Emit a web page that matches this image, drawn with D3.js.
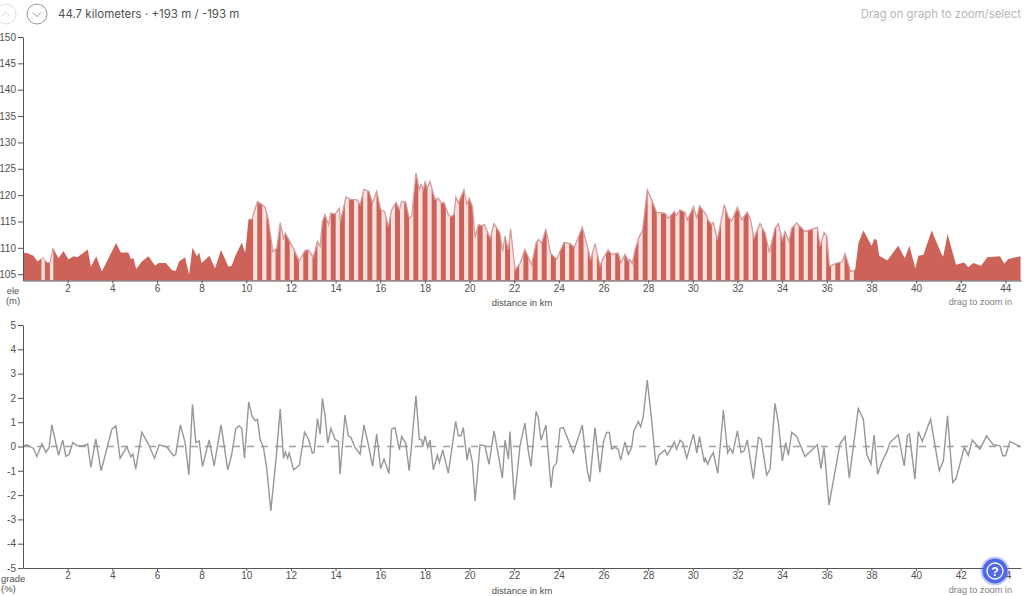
<!DOCTYPE html>
<html>
<head>
<meta charset="utf-8">
<script src="https://cdn.jsdelivr.net/npm/d3@7"></script>
<style>
  html, body { margin: 0; padding: 0; background: #fff; overflow: hidden; }
  svg { display: block; }
  .axis text { font: 10px "Liberation Sans", Arial, sans-serif; fill: #505050; }
  .axis path, .axis line { stroke: #555; }
  .label { font: 9.5px "Liberation Sans", Arial, sans-serif; fill: #505050; }
  .hint { font: 9.2px "Liberation Sans", Arial, sans-serif; fill: #808080; }
</style>
</head>
<body>
<div id="chart"></div>
<script>
// elevation profile
const eleKm = [0.02,0.17,0.47,0.65,0.89,1.07,1.22,1.34,1.59,1.81,2.04,2.26,2.44,2.9,3.04,3.28,3.53,4.17,4.38,4.72,4.83,4.95,5.07,5.32,5.62,5.92,6.07,6.4,6.67,6.84,6.99,7.26,7.44,7.59,7.79,7.89,8.0,8.35,8.6,8.87,9.2,9.35,9.5,9.8,9.95,10.1,10.25,10.5,10.7,10.84,10.99,11.19,11.37,11.52,11.67,11.75,11.9,12.12,12.37,12.64,12.79,13.0,13.19,13.31,13.41,13.53,13.68,13.79,13.98,14.17,14.22,14.47,14.65,14.95,15.1,15.27,15.5,15.65,15.84,16.02,16.19,16.36,16.51,16.71,16.86,16.96,17.14,17.3,17.41,17.6,17.75,17.83,17.93,18.01,18.11,18.23,18.45,18.6,18.75,18.86,19.05,19.16,19.3,19.39,19.5,19.75,19.87,19.99,20.13,20.25,20.4,20.54,20.66,20.92,21.1,21.36,21.48,21.59,21.74,21.84,22.04,22.26,22.48,22.78,22.98,23.08,23.23,23.42,23.63,23.9,24.08,24.23,24.5,24.69,25.05,25.32,25.42,25.62,25.84,25.99,26.21,26.36,26.66,26.78,26.96,27.13,27.18,27.29,27.41,27.59,27.75,27.96,28.16,28.38,28.75,28.9,29.17,29.27,29.43,29.65,29.76,30.03,30.18,30.3,30.55,30.7,30.85,30.92,31.1,31.41,31.59,31.74,32.0,32.19,32.44,32.59,32.74,33.01,33.24,33.43,33.68,33.83,34.01,34.13,34.31,34.43,34.65,35.03,35.58,35.7,35.88,36.0,36.12,36.45,36.7,36.82,37.07,37.27,37.42,37.64,38.01,38.13,38.24,38.35,38.71,39.2,39.5,39.7,39.97,40.1,40.33,40.7,41.15,41.22,41.41,41.79,42.15,42.34,42.56,42.91,43.19,43.76,43.95,44.13,44.68];
const eleVal = [109,109,108.5,107.4,108.2,107.2,107.2,110,108,109.4,107.8,108.4,108.2,109.7,106.4,108.4,105.5,110.9,109.1,109.1,107.9,108,106,107.4,108.4,106.6,107.1,107.1,105.8,105.6,107.4,108.2,104.9,110,108.4,109.1,107.1,108.5,106.1,109.6,106.4,106.6,108.4,111,109,115.4,115.4,118.8,118.2,117.7,115.3,109.3,109.9,114.8,111.8,112.8,111.6,109.8,107.5,109.5,109.6,108.2,111.2,110.3,115,116.3,114.4,116.6,116.4,117.5,115,119.7,119.2,119.1,118.2,121.1,120.7,118.5,120.7,117.2,116.9,114,117.2,118.6,117.2,118.8,118.7,115.6,116,124.2,121,122,121,122.5,121.3,122.6,119.2,119.4,118.5,118.6,116.3,115.9,116.3,119.6,118.5,121,118.2,119.4,117.8,112,114.4,114.2,114.4,111.8,114.6,112.8,109.3,112.2,109.6,113.6,105.8,107,109.7,106.8,110.9,111.6,110.9,113.6,109,107.8,109.6,111,110.8,110.1,113.9,109.6,107.7,110.8,106.6,108,109.6,108.8,109,107.1,108.8,107.4,107.8,107,109.6,112,113.3,121,119.1,116.7,116.6,115.6,116.9,116.1,117.2,116.7,115.3,117.8,115.6,118,116.6,115.2,114.4,114.8,111.5,118.2,115.8,115.1,117.7,115.3,116.8,115.3,111.8,114.6,112.8,109.1,113.7,114.6,111.5,113.1,111.2,113.7,114.7,113.1,113.9,110.3,112.9,112.2,106.5,107.1,107.4,108.9,105.5,105.8,110.9,113.3,110.4,111.7,111.5,108.5,107.6,110.4,108,110.4,106.1,108.5,108.7,113.3,108.7,108.4,112.6,106.8,107.2,106.3,107.1,106.6,108.2,108.4,107,107.9,108.4];

// centres of the pale stripes in km
const stripeKm = [0.92,1.3,10.40,10.81,11.22,11.63,12.04,12.46,12.87,13.28,13.69,14.10,14.51,14.92,15.33,15.74,16.15,16.57,16.98,17.39,17.80,18.21,18.62,19.03,19.44,19.85,20.26,20.68,21.09,21.50,21.91,22.32,22.73,23.14,23.55,23.96,24.37,24.79,25.20,25.61,26.02,26.43,26.84,27.25,27.66,28.07,28.48,28.90,29.31,29.72,30.13,30.54,30.95,31.36,31.77,32.18,32.59,33.01,33.42,33.83,34.24,34.65,35.06,35.47,35.88,36.29,36.70,37.12];

// grade profile
const gradeKm = [0.02,0.17,0.47,0.62,0.85,1.02,1.17,1.29,1.59,1.78,1.92,2.07,2.23,2.44,2.71,2.9,3.04,3.26,3.5,3.98,4.16,4.35,4.65,4.83,4.92,5.05,5.32,5.62,5.89,6.1,6.44,6.74,6.84,7.05,7.26,7.43,7.59,7.74,7.89,8.04,8.34,8.56,8.87,9.17,9.35,9.53,9.68,9.8,9.92,10.11,10.25,10.4,10.5,10.62,10.77,10.92,11.1,11.34,11.52,11.67,11.75,11.85,11.92,12.12,12.38,12.61,12.79,12.96,13.04,13.19,13.31,13.41,13.53,13.65,13.79,13.98,14.13,14.2,14.42,14.57,14.69,14.87,15.1,15.27,15.47,15.66,15.84,16.02,16.17,16.39,16.51,16.66,16.86,16.96,17.14,17.3,17.6,17.75,17.86,17.9,18.01,18.13,18.23,18.38,18.56,18.65,18.8,19.05,19.38,19.5,19.62,19.72,19.89,19.99,20.13,20.25,20.47,20.69,20.87,21.1,21.47,21.59,21.74,21.81,22.01,22.26,22.48,22.63,22.75,22.98,23.08,23.2,23.42,23.65,23.75,23.9,24.05,24.2,24.65,25.05,25.27,25.39,25.62,25.84,25.99,26.14,26.26,26.36,26.51,26.66,26.77,26.96,27.11,27.26,27.36,27.56,27.66,27.78,27.96,28.16,28.35,28.48,28.75,28.86,29.17,29.27,29.43,29.55,29.73,30.03,30.18,30.3,30.52,30.56,30.67,30.77,30.92,31.12,31.37,31.56,31.67,31.79,32.0,32.16,32.3,32.44,32.71,32.94,33.06,33.31,33.46,33.68,33.83,34.01,34.16,34.28,34.43,34.65,35.03,35.58,35.74,35.88,36.1,36.59,36.82,37.01,37.41,37.64,37.79,37.98,38.12,38.28,38.46,38.71,38.83,39.2,39.47,39.61,39.7,39.95,40.1,40.28,40.65,41.04,41.22,41.41,41.64,41.79,42.16,42.34,42.52,42.86,43.16,43.46,43.76,43.88,44.01,44.2,44.68];
const gradeVal = [0.03,0.07,-0.08,-0.41,0.12,-0.25,-0.04,0.89,-0.36,0.26,-0.41,-0.32,0.16,0.03,0.03,0.1,-0.86,0.3,-1,0.71,0.85,-0.49,-0.01,-0.43,-0.32,-0.93,0.58,0.1,-0.49,0.07,-0.01,-0.38,-0.32,0.89,0.16,-1.17,1.74,0.16,0.23,-0.82,0.27,-0.8,0.89,-0.96,-0.32,0.74,0.85,0.74,-0.48,1.84,1.26,1.06,1.12,0.3,-0.04,-0.93,-2.65,-0.45,1.54,-0.49,-0.22,-0.48,-0.27,-0.96,-0.77,0.58,0.3,-0.27,-0.25,1.15,0.51,1.98,1.26,0.14,0.74,0.3,0.2,-1.14,1.29,0.44,0.37,-0.04,-0.32,0.89,0.07,-0.82,0.51,-0.91,-0.52,-1.11,0.71,0.78,-0.14,0.41,0.14,-1,2.09,0.3,0.26,-0.01,0.44,-0.04,0.26,-0.96,-0.36,-0.66,-0.14,-1.1,1.03,0.44,0.44,0.78,-0.56,-0.04,-0.66,-2.24,0.07,0.03,-0.73,0.64,-1.3,0.26,-0.52,0.62,-2.2,0.03,0.96,-0.18,-0.82,1.44,1.19,0.26,0.88,-1.69,-0.86,-0.66,0.74,0.78,-0.25,0.88,-0.96,-1.45,0.78,-1.07,0.16,0.58,0.58,-0.11,-0.04,-0.11,-0.56,0.19,-0.32,-0.04,0.64,1.03,0.81,1.23,2.73,1.06,-0.77,-0.36,-0.14,-0.36,0.19,-0.11,0.26,0.16,-0.48,0.51,-0.27,0.41,-0.66,-0.49,-0.73,-0.49,-0.25,-1.11,1.5,-0.27,-0.07,-0.27,0.64,-0.25,-0.18,0.27,-1.32,0.37,0.3,-1.18,-0.93,1.78,0.99,-0.59,0.16,-0.36,0.58,0.41,-0.41,0.07,-0.91,-0.04,-2.41,0.1,0.41,-1.3,1.56,1.12,-0.32,-0.73,0.47,-1.14,-0.66,-0.18,0.16,0.48,-0.8,0.44,0.51,-1.34,0.62,0.21,1.12,-1,-0.59,1.26,-1.48,-1.32,-0.04,-0.36,0.27,-0.11,0.44,0.07,0.03,-0.38,-0.38,0.21,-0.01];

const xTicks = d3.range(2, 45, 2);
const eleTicks = [105,110,115,120,125,130,135,140,145,150];
const gradeTicks = [-5,-4,-3,-2,-1,0,1,2,3,4,5];

const width = 1024, height = 596;
const plot = {left: 23, right: 1021};

let svg = d3.select("#chart").append("svg")
    .attr("width", width)
    .attr("height", height);

let x = d3.scaleLinear().domain([0, 44.7]).range([plot.left, plot.right]);
let yEle = d3.scaleLinear().domain([103.8, 150]).range([280.5, 37]);
let yGrade = d3.scaleLinear().domain([-5, 5]).range([568, 325]);

let eleData = eleKm.map(function(k, i) { return {km: k, v: eleVal[i]}; });
let gradeData = gradeKm.map(function(k, i) { return {km: k, v: gradeVal[i]}; });

//elevation area, stripes are clipped to the same shape
let area = d3.area()
    .x(function(d) { return x(d.km); })
    .y0(yEle(103.8))
    .y1(function(d) { return yEle(d.v); });

svg.append("clipPath").attr("id", "ele-clip")
    .append("path").attr("d", area(eleData));

svg.append("path")
    .attr("d", area(eleData))
    .attr("fill", "#cd6259");

svg.append("g")
    .attr("clip-path", "url(#ele-clip)")
    .selectAll("rect").data(stripeKm).enter()
    .append("rect")
    .attr("x", function(d) { return x(d) - 2.1; })
    .attr("width", function(d) { return d < 2 ? 3.4 : 4.2; })
    .attr("y", yEle(150))
    .attr("height", yEle(103.8) - yEle(150))
    .attr("fill", "#fbe1dd");

//rose outline only along the striped part
let eleLine = d3.line()
    .x(function(d) { return x(d.km); })
    .y(function(d) { return yEle(d.v); });

svg.append("path")
    .attr("d", eleLine(eleData.filter(function(d) { return d.km > 10.2 && d.km < 37.3; })))
    .attr("fill", "none")
    .attr("stroke", "#d59c9e")
    .attr("stroke-width", 1.3);

svg.append("path")
    .attr("d", eleLine(eleData.filter(function(d) { return d.km > 0.8 && d.km < 1.4; })))
    .attr("fill", "none")
    .attr("stroke", "#d59c9e")
    .attr("stroke-width", 1);

//zero line and grade line
svg.append("line")
    .attr("x1", x(0)).attr("x2", plot.right)
    .attr("y1", yGrade(0)).attr("y2", yGrade(0))
    .attr("stroke", "#a0a0a0")
    .attr("stroke-width", 1.5)
    .attr("stroke-dasharray", "7,7");

svg.append("path")
    .attr("d", d3.line()
        .x(function(d) { return x(d.km); })
        .y(function(d) { return yGrade(d.v); })(gradeData))
    .attr("fill", "none")
    .attr("stroke", "#979797")
    .attr("stroke-width", 1.4);

//axes
function drawAxes(y, yTicks, bottom) {
    svg.append("g").attr("class", "axis")
        .attr("transform", `translate(${plot.left}, 0)`)
        .call(d3.axisLeft(y).tickValues(yTicks).tickSize(5).tickPadding(2).tickSizeOuter(0)
            .tickFormat(function(d) { return String(d); }));
    svg.append("g").attr("class", "axis")
        .attr("transform", `translate(0, ${bottom})`)
        .call(d3.axisBottom(x).tickValues(xTicks).tickSize(3).tickPadding(1).tickSizeOuter(0));
}
drawAxes(yEle, eleTicks, 280.5);
drawAxes(yGrade, gradeTicks, 568);

function label(cls, px, py, anchor, txt) {
    svg.append("text").attr("class", cls)
        .attr("x", px).attr("y", py)
        .style("text-anchor", anchor)
        .text(txt);
}
label("label", 13, 294, "middle", "ele");
label("label", 13, 304, "middle", "(m)");
label("label", 522, 305.5, "middle", "distance in km");
label("hint", 1012, 304.5, "end", "drag to zoom in");
label("label", 1, 582, "start", "grade");
label("label", 1, 592, "start", "(%)");
label("label", 522, 594, "middle", "distance in km");
label("hint", 1012, 593, "end", "drag to zoom in");

//header
function chevronButton(cx, stroke, up) {
    svg.append("circle")
        .attr("cx", cx).attr("cy", 14).attr("r", 10)
        .attr("fill", "#fff").attr("stroke", stroke).attr("stroke-width", 1);
    let d = up ? [[-4, 2], [0, -2], [4, 2]] : [[-4, -1.5], [0, 2.5], [4, -1.5]];
    svg.append("path")
        .attr("d", d3.line().x(function(p) { return cx + p[0]; }).y(function(p) { return 14 + p[1]; })(d))
        .attr("fill", "none").attr("stroke", stroke).attr("stroke-width", 1);
}
chevronButton(6, "#ddd", true);
chevronButton(37, "#999", false);

svg.append("text")
    .attr("x", 58).attr("y", 18)
    .style("font", "11.5px Inter, 'Noto Sans', sans-serif")
    .style("fill", "#505050")
    .text("44.7 kilometers \u00b7 +193 m / -193 m");

svg.append("text")
    .attr("x", 1021).attr("y", 18)
    .style("font", "11.4px Inter, 'Noto Sans', sans-serif")
    .style("fill", "#b5b5b5")
    .style("text-anchor", "end")
    .text("Drag on graph to zoom/select");

//help button
svg.append("circle").attr("cx", 995).attr("cy", 571).attr("r", 14.5)
    .attr("fill", "#5b74e8").attr("opacity", 0.35);
svg.append("circle").attr("cx", 995).attr("cy", 571).attr("r", 12.5)
    .attr("fill", "#4f69e6");
svg.append("circle").attr("cx", 995).attr("cy", 571).attr("r", 8)
    .attr("fill", "none").attr("stroke", "#fff").attr("stroke-width", 1.3);
svg.append("text")
    .attr("x", 995).attr("y", 575.5)
    .style("font", "bold 12px 'Liberation Sans', Arial, sans-serif")
    .style("fill", "#fff")
    .style("text-anchor", "middle")
    .text("?");
</script>
</body>
</html>
